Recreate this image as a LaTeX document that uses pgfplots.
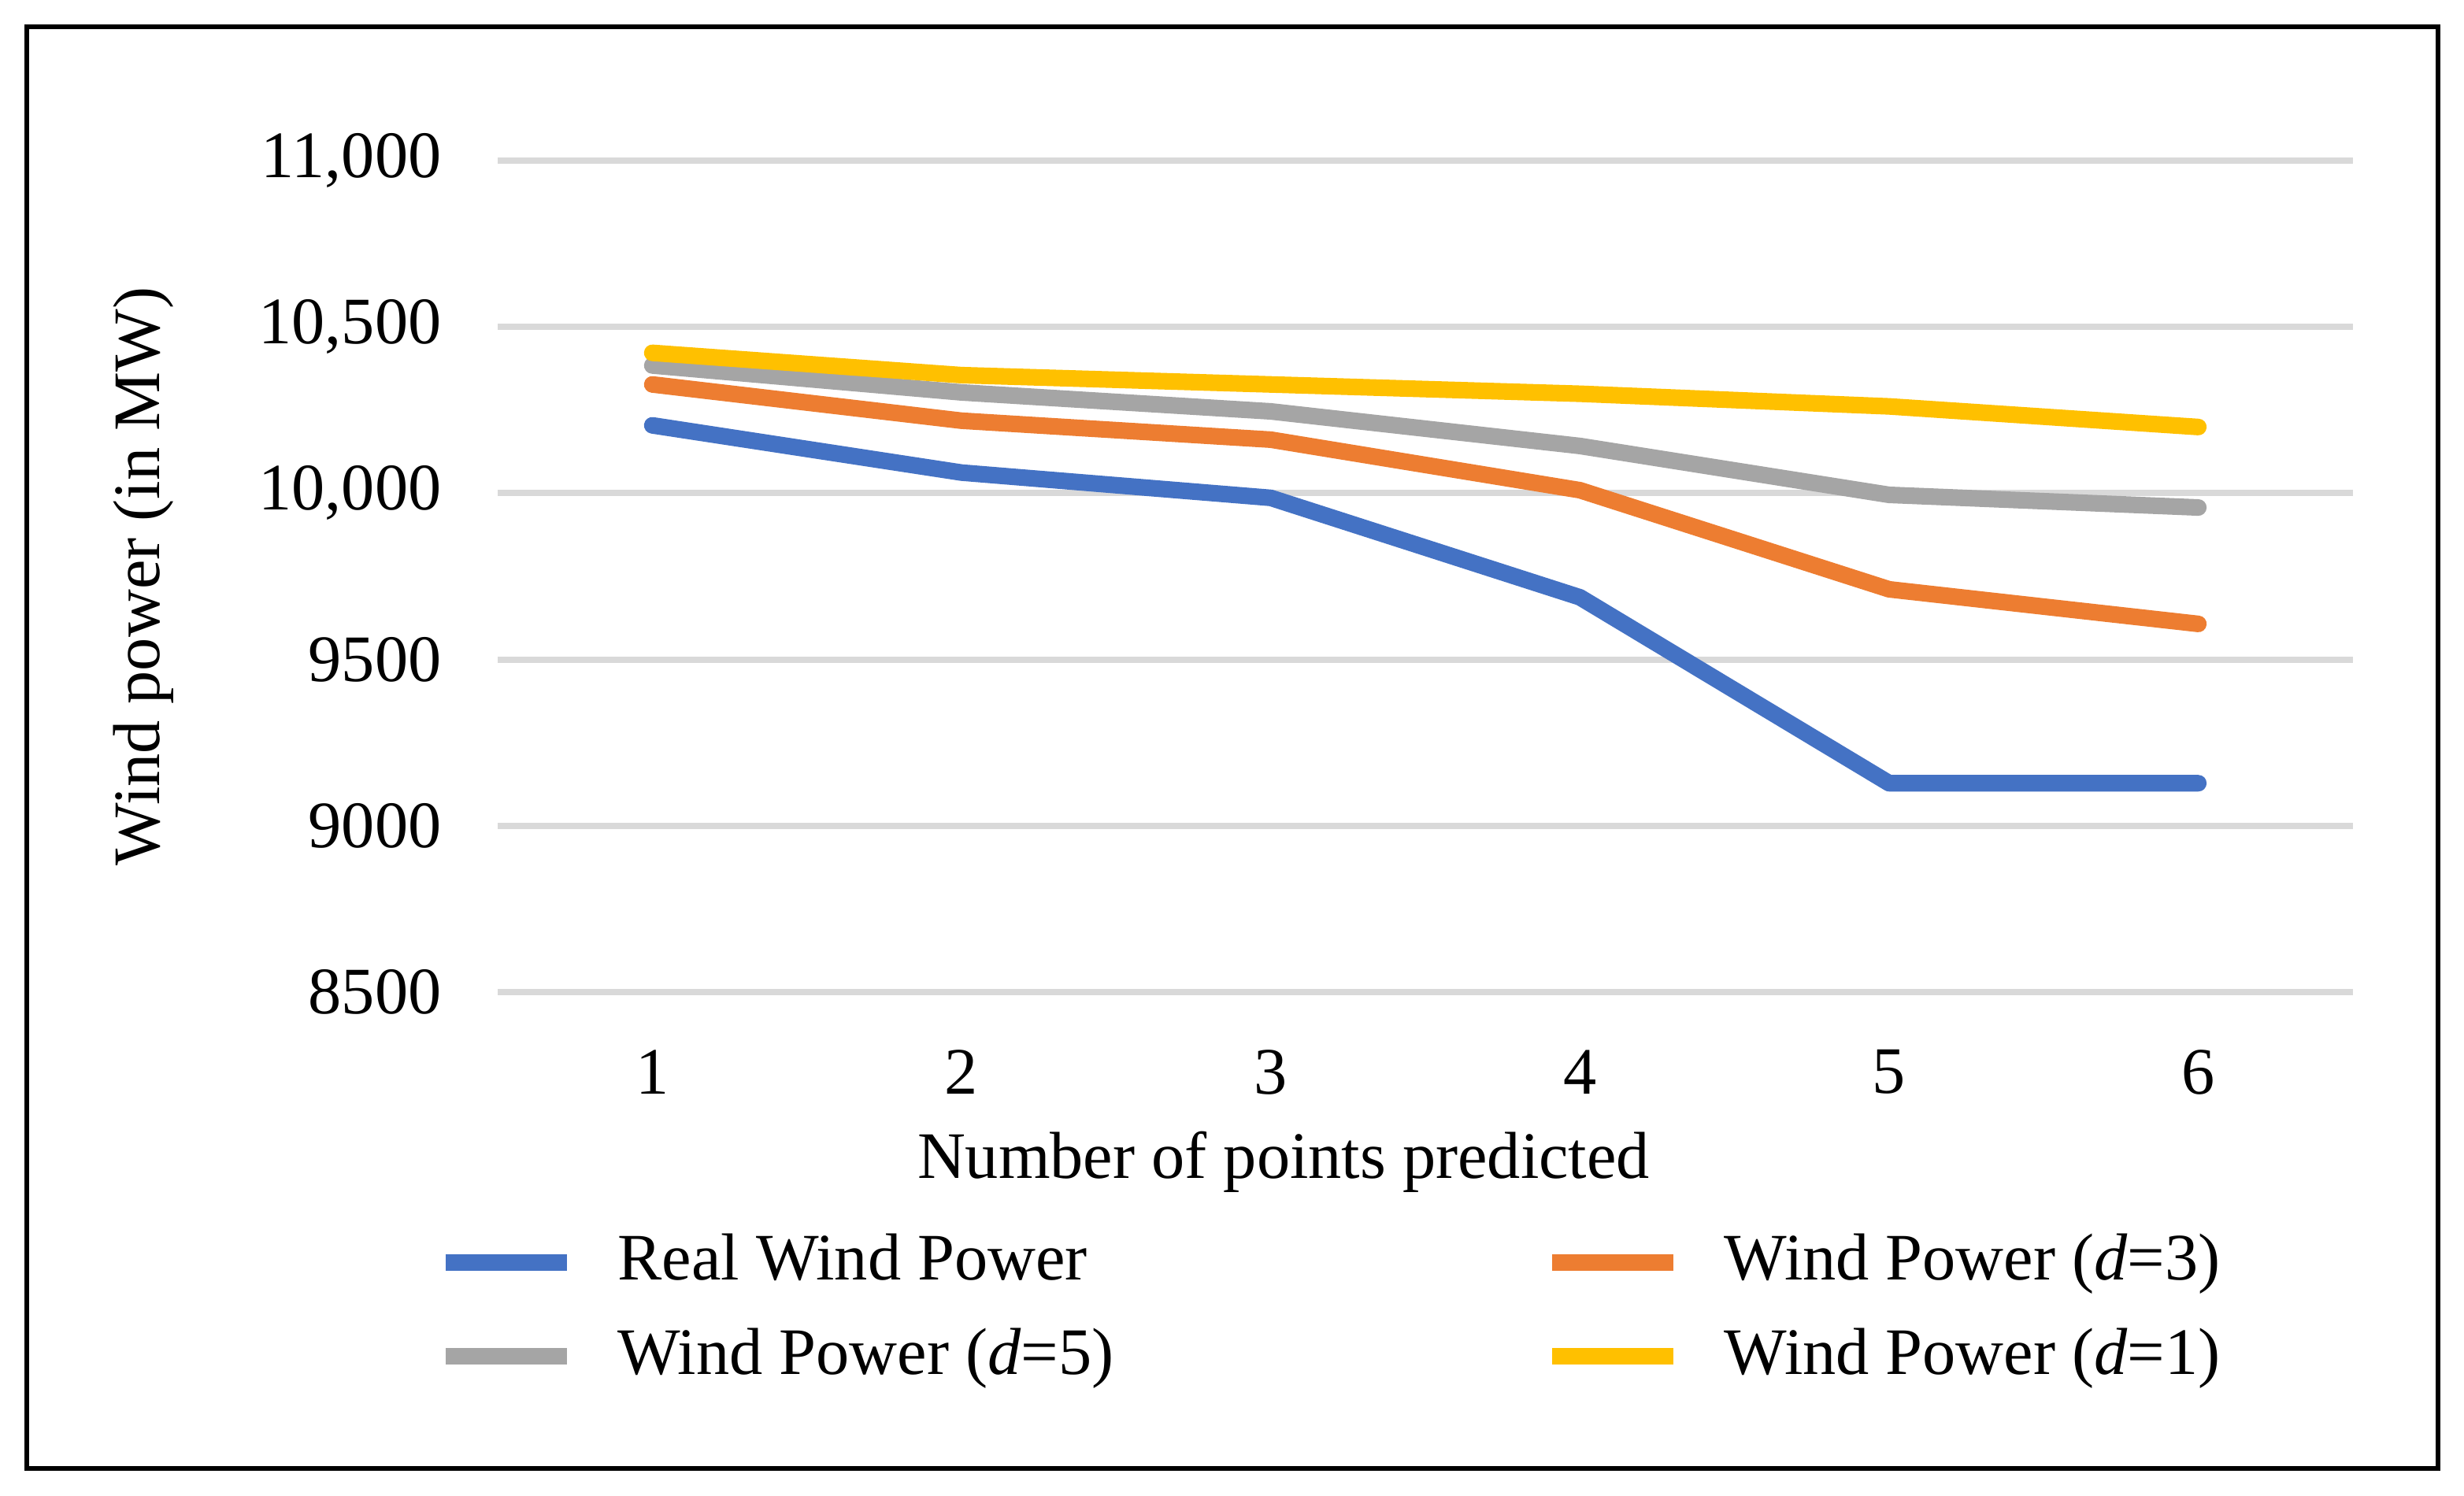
\documentclass[border=0pt]{standalone}
\usepackage{pgfplots}
\pgfplotsset{compat=1.18}
\usepackage{fontspec}
\setmainfont{Liberation Serif}

\definecolor{cBlue}{HTML}{4472C4}
\definecolor{cOrange}{HTML}{ED7D31}
\definecolor{cGray}{HTML}{A5A5A5}
\definecolor{cYellow}{HTML}{FFC000}
\definecolor{cGrid}{HTML}{D9D9D9}

\begin{document}
\begin{tikzpicture}
\fontsize{12}{14}\selectfont
\useasboundingbox (0,0) rectangle (156.45mm,94.95mm);
\draw[line width=0.85pt] (1.7mm,1.7mm) rectangle (154.8mm,93.25mm);
\begin{axis}[
    at={(31.6mm,31.95mm)}, anchor=south west,
    scale only axis,
    width=117.8mm, height=52.8mm,
    xmin=0.5, xmax=6.5,
    ymin=8500, ymax=11000,
    scaled y ticks=false,
    axis line style={draw=none},
    major tick length=0pt,
    xtick={1,2,3,4,5,6},
    xticklabels={1,2,3,4,5,6},
    ytick={8500,9000,9500,10000,10500,11000},
    yticklabels={8500,9000,9500,{10,000},{10,500},{11,000}},
    ymajorgrids=true,
    grid style={cGrid, line width=1.15pt},
    tick label style={font=\fontsize{12}{14}\selectfont},
    xticklabel style={yshift=-2.2mm},
    yticklabel style={xshift=-2.1mm},
    every axis x label/.style={at={(axis description cs:0.5,0)}, anchor=center, xshift=-9mm, yshift=-10.8mm, font=\fontsize{12}{14}\selectfont},
    every axis y label/.style={at={(axis description cs:0,0.5)}, rotate=90, anchor=center, yshift=22.5mm, font=\fontsize{12}{14}\selectfont},
    xlabel={Number of points predicted},
    ylabel={Wind power (in MW)},
    legend columns=2,
    legend cell align=left,
    legend image code/.code={\draw[#1, line width=3pt, line cap=butt] (0mm,0mm) -- (7.7mm,0mm);},
    legend style={draw=none, fill=none, inner sep=0pt, font=\fontsize{12}{14}\selectfont,
        at={(axis description cs:0,0)}, anchor=north west, xshift=-3.9mm, yshift=-14.6mm,
        row sep=1.0mm,
        /tikz/every odd column/.append style={column sep=2.0mm}},
    every axis plot/.append style={line width=3pt, line join=round, line cap=round},
]
\addplot[cBlue] coordinates {(1,10204) (2,10062) (3,9986) (4,9687) (5,9128) (6,9128)};
\addlegendentry{\makebox[58.1mm][l]{Real Wind Power}}
\addplot[cOrange] coordinates {(1,10327) (2,10218) (3,10161) (4,10009) (5,9711) (6,9607)};
\addlegendentry{Wind Power (\textit{d}=3)}
\addplot[cGray] coordinates {(1,10384) (2,10303) (3,10246) (4,10142) (5,9995) (6,9957)};
\addlegendentry{\makebox[58.1mm][l]{Wind Power (\textit{d}=5)}}
\addplot[cYellow] coordinates {(1,10422) (2,10355) (3,10327) (4,10299) (5,10261) (6,10199)};
\addlegendentry{Wind Power (\textit{d}=1)}
\end{axis}
\end{tikzpicture}
\end{document}
